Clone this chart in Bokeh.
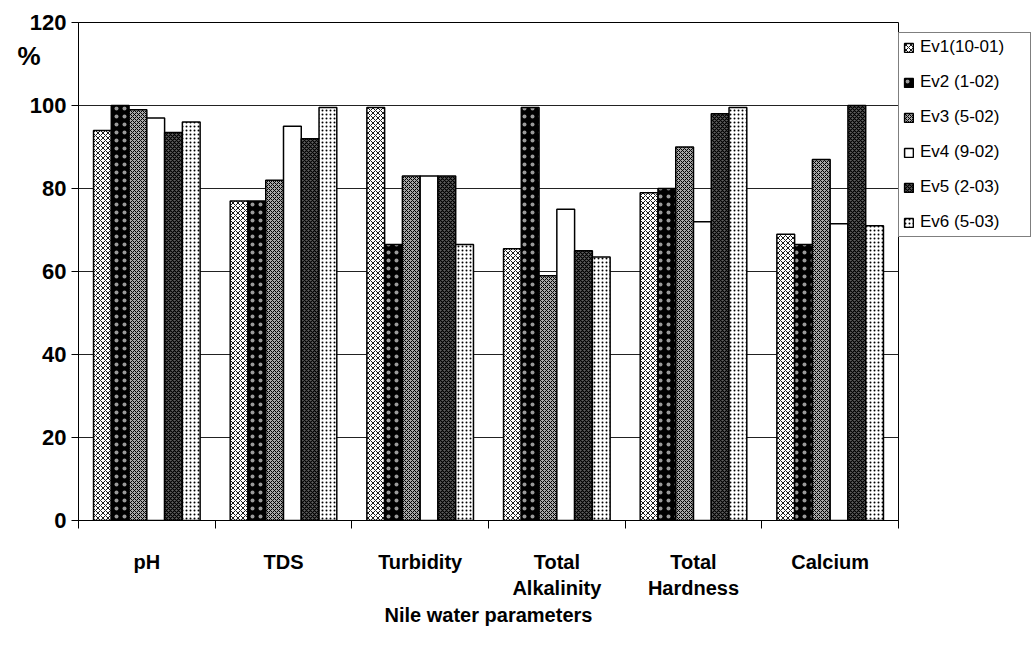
from bokeh.plotting import figure
from bokeh.models import (ColumnDataSource, FixedTicker, Legend, LegendItem,
                          LinearAxis, Range1d)
from bokeh.embed import file_html
from bokeh.resources import INLINE

# Nile water quality indices (%) per sampling event
parameters = ["pH", "TDS", "Turbidity", "Total\nAlkalinity", "Total\nHardness", "Calcium"]
event_names = ["Ev1(10-01)", "Ev2 (1-02)", "Ev3 (5-02)", "Ev4 (9-02)", "Ev5 (2-03)", "Ev6 (5-03)"]

ev1 = [94, 77, 99.5, 65.5, 79, 69]
ev2 = [100, 77, 66.5, 99.5, 80, 66.5]
ev3 = [99, 82, 83, 59, 90, 87]
ev4 = [97, 95, 83, 75, 72, 71.5]
ev5 = [93.5, 92, 83, 65, 98, 100]
ev6 = [96, 99.5, 66.5, 63.5, 99.5, 71]

series = [ev1, ev2, ev3, ev4, ev5, ev6]
y_ticks = [0, 20, 40, 60, 80, 100, 120]

# fill style of each event: (fill colour, hatch pattern, hatch colour, scale, weight)
styles = [
    ("#ffffff", "diagonal_cross", "#000000", 5, 0.9),
    ("#000000", "dot", "#9a9a9a", 8, 0.5),
    ("#a8a8a8", "diagonal_cross", "#000000", 4, 1.0),
    ("#ffffff", None, None, 4, 1.0),
    ("#606060", "diagonal_cross", "#000000", 4, 1.2),
    ("#ffffff", "dot", "#000000", 4, 1.4),
]

bar_w = 0.13
n = len(series)

p = figure(frame_width=820, frame_height=498,
           min_border_left=78, min_border_right=133,
           min_border_top=22, min_border_bottom=126,
           x_range=Range1d(-0.5, 5.5), y_range=Range1d(0, 120),
           output_backend="svg", toolbar_location=None,
           background_fill_color="white", border_fill_color="white")

p.outline_line_color = "black"
p.outline_line_width = 1

legend_items = []
for j, vals in enumerate(series):
    xs = [i + (j - (n - 1) / 2) * bar_w for i in range(len(parameters))]
    src = ColumnDataSource(dict(x=xs, top=vals))
    fc, hp, hc, hs, hw = styles[j]
    kw = dict(fill_color=fc, line_color="black", line_width=1.5)
    if hp:
        kw.update(hatch_pattern=hp, hatch_color=hc, hatch_scale=hs, hatch_weight=hw)
    r = p.vbar(x="x", top="top", bottom=0, width=bar_w, source=src, **kw)
    legend_items.append(LegendItem(label=event_names[j], renderers=[r]))

# y axis
p.yaxis.ticker = FixedTicker(ticks=y_ticks)
p.yaxis.major_label_text_font = "Liberation Sans"
p.yaxis.major_label_text_font_style = "bold"
p.yaxis.major_label_text_font_size = "22px"
p.yaxis.major_label_text_color = "black"
p.yaxis.major_tick_out = 7
p.yaxis.major_tick_in = 0
p.yaxis.minor_tick_line_color = None
p.yaxis.axis_line_color = "black"
p.yaxis.major_label_standoff = 5

# "%" unit mark, drawn as a second left axis with a single label
unit_axis = LinearAxis(ticker=FixedTicker(ticks=[112]),
                       major_label_overrides={112: "%"},
                       major_tick_line_color=None, minor_tick_line_color=None,
                       axis_line_color=None, major_label_standoff=-14,
                       major_tick_out=0, major_tick_in=0,
                       major_label_text_font="Liberation Sans",
                       major_label_text_font_style="bold",
                       major_label_text_font_size="26px",
                       major_label_text_color="black")
p.add_layout(unit_axis, "left")

p.ygrid.grid_line_color = "#222222"
p.ygrid.grid_line_width = 1
p.xgrid.grid_line_color = None

# x axis: labels at group centres, ticks between groups
p.xaxis.ticker = FixedTicker(ticks=list(range(len(parameters))),
                             minor_ticks=[k - 0.5 for k in range(len(parameters) + 1)])
p.xaxis.major_label_overrides = {i: lab for i, lab in enumerate(parameters)}
p.xaxis.major_tick_line_color = None
p.xaxis.minor_tick_out = 8
p.xaxis.minor_tick_in = 0
p.xaxis.minor_tick_line_color = "black"
p.xaxis.major_label_standoff = 22
p.xaxis.major_label_text_font = "Liberation Sans"
p.xaxis.major_label_text_font_style = "bold"
p.xaxis.major_label_text_font_size = "20px"
p.xaxis.major_label_text_color = "black"
p.xaxis.axis_line_color = "black"
p.xaxis.axis_label = "Nile water parameters"
p.xaxis.axis_label_text_font = "Liberation Sans"
p.xaxis.axis_label_text_font_style = "bold"
p.xaxis.axis_label_text_font_size = "20px"
p.xaxis.axis_label_text_color = "black"
p.xaxis.axis_label_standoff = 2

legend = Legend(items=legend_items, location=(0, 283),
                label_text_font="Liberation Sans", label_text_font_size="17px",
                label_text_color="black",
                glyph_width=11, glyph_height=11, label_height=20,
                label_width=106, label_standoff=6,
                spacing=15, padding=4, margin=0,
                border_line_color="black", border_line_width=1,
                background_fill_color="white", background_fill_alpha=1)
p.add_layout(legend, "right")

open("out.html", "w").write(file_html(p, INLINE))
